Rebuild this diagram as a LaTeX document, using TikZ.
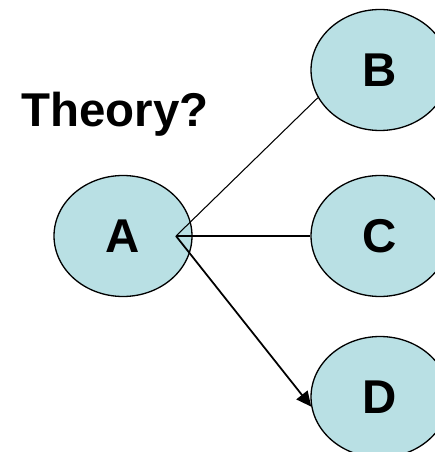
\documentclass[tikz,border=0pt]{standalone}
\usepackage{fontspec}
\setmainfont{Liberation Sans}
\usetikzlibrary{shapes.geometric,arrows.meta}
\definecolor{nodefill}{RGB}{185,224,228}

\begin{document}
\begin{tikzpicture}[x=0.02cm, y=-0.02cm,
    blob/.style={ellipse, draw, line width=0.75pt, fill=nodefill,
      minimum width=2.76cm, minimum height=2.42cm, inner sep=0pt,
      font=\fontsize{27}{32}\selectfont\bfseries}]
  % Cadre de l'image
  \useasboundingbox (0,0) rectangle (434,452);

  % Titre
  \node[anchor=base west, inner sep=0pt, font=\fontsize{27}{32}\selectfont\bfseries]
    (title) at (21,127) {Theory?};

  % Noeuds
  \node[blob] (A) at (123,236) {A};
  \node[blob] (B) at (380,70) {B};
  \node[blob] (C) at (380,236) {C};
  \node[blob] (D) at (380,397) {D};

  % Point de depart des liens
  \coordinate (hub) at (176,236);

  % Liens
  \draw[line width=0.6pt] (hub) -- (B.204);
  \draw[line width=0.6pt] (hub) -- (C.west);
  \draw[line width=1pt, -{Triangle[length=0.3cm, width=0.28cm]}] (hub) -- (D.188);
\end{tikzpicture}
\end{document}
